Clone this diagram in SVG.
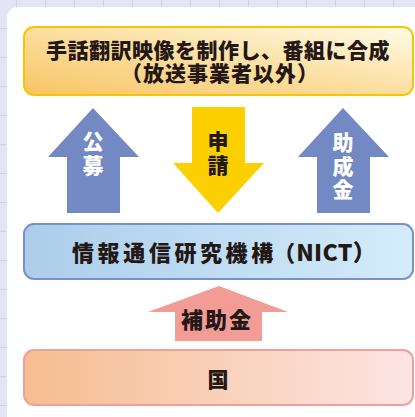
<svg xmlns="http://www.w3.org/2000/svg" width="415" height="417" viewBox="0 0 415 417">
<defs>
<pattern id="grid" x="16" y="-1" width="29" height="29" patternUnits="userSpaceOnUse">
<rect width="29" height="29" fill="#e3e4f4"/>
<path d="M0 0.5H29M0.5 0V29" stroke="#d0d2ea" stroke-width="1"/>
</pattern>
<linearGradient id="gTop" x1="0" y1="1" x2="1" y2="0">
<stop offset="0" stop-color="#f8c464"/>
<stop offset="0.45" stop-color="#fbdc9a"/>
<stop offset="1" stop-color="#fffbe6"/>
</linearGradient>
<linearGradient id="gMid" x1="0" y1="0" x2="1" y2="0">
<stop offset="0" stop-color="#abcdeb"/>
<stop offset="1" stop-color="#d4ecfa"/>
</linearGradient>
<linearGradient id="gBot" x1="0" y1="0" x2="1" y2="0">
<stop offset="0" stop-color="#f6bd90"/>
<stop offset="1" stop-color="#fce5e3"/>
</linearGradient>
</defs>
<style>
.t{font-family:"Noto Sans CJK JP","Noto Sans",sans-serif;font-weight:900;fill:#231815}
.w{fill:#ffffff}
.v{writing-mode:vertical-rl;text-anchor:start}
.m{text-anchor:middle}
</style>
<rect width="415" height="417" fill="url(#grid)"/>
<rect x="7" y="7" width="420" height="420" rx="11" fill="#ffffff"/>
<g id="connectors">
<polygon id="arrow-koubo" points="93,108 139,157 120,157 120,213 67,213 67,157 48,157" fill="#7389c3"/>
<polygon id="arrow-shinsei" points="192,107 245,107 245,163 264,163 218,213 173,163 192,163" fill="#fcd000"/>
<polygon id="arrow-josei" points="343,108 389,157 370,157 370,213 317,213 317,157 298,157" fill="#7389c3"/>
<polygon id="arrow-hojo" points="219,286 288,312 262,312 262,341 175,341 175,312 148,312" fill="#f29c95"/>
</g>
<g id="node-top">
<rect x="24" y="27" width="389" height="68" rx="10" fill="url(#gTop)" stroke="#f6c700" stroke-width="2"/>
<text class="t" font-size="21"><tspan x="46" y="58" letter-spacing="0.5">手話翻訳映像を制作し、番組に合成</tspan><tspan x="121" y="81" letter-spacing="1">（放送事業者以外）</tspan></text>
</g>
<g id="label-koubo">
<text class="t w v" x="93" y="131" font-size="21" letter-spacing="3">公募</text>
</g>
<g id="label-shinsei">
<text class="t v" x="218" y="131" font-size="21" letter-spacing="3">申請</text>
</g>
<g id="label-josei">
<text class="t w v" x="343" y="132" font-size="21" letter-spacing="2.5">助成金</text>
</g>
<g id="node-nict">
<rect x="24" y="224" width="389" height="55" rx="10" fill="url(#gMid)" stroke="#7a90c9" stroke-width="2"/>
<text class="t" font-size="22" y="261"><tspan x="72" letter-spacing="3.6">情報通信研究機</tspan><tspan letter-spacing="0">構（</tspan><tspan dx="1" font-size="23" letter-spacing="0.3">NICT）</tspan></text>
</g>
<g id="label-hojo">
<text class="t" x="181" y="328" font-size="22" letter-spacing="2">補助金</text>
</g>
<g id="node-kuni">
<rect x="24" y="350" width="389" height="55" rx="10" fill="url(#gBot)" stroke="#f0a09b" stroke-width="2"/>
<text class="t m" x="218" y="387" font-size="21">国</text>
</g>
</svg>
